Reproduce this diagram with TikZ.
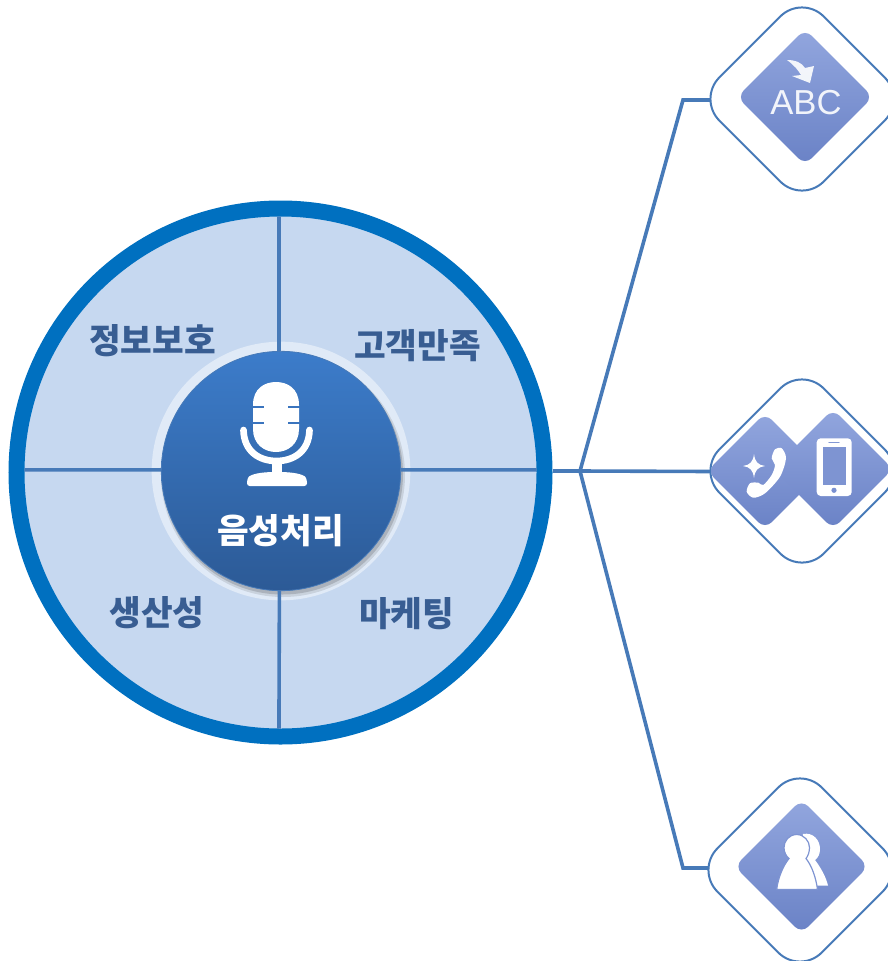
\documentclass[tikz,border=0pt]{standalone}
\usepackage{fontspec}
\newfontfamily\krfont{Noto Sans CJK KR}
\setmainfont{Liberation Sans}
\usetikzlibrary{shapes.geometric}
\tikzset{
	lbl/.style={font=\krfont\bfseries\fontsize{25.8}{26}\selectfont, text=lblblue, inner sep=0pt},
	spoke/.style={line width=2.7pt, color=lineblue},
	branch/.style={line width=2.7pt, color=lineblue},
	tile/.style={diamond, aspect=1, draw=lineblue, line width=1.5pt, fill=white, rounded corners=23pt, inner sep=0pt, minimum width=157pt, minimum height=157pt},
	badge/.style={diamond, aspect=1, rounded corners=7pt, inner sep=0pt, top color=badgetop, bottom color=badgebot, minimum width=#1, minimum height=#1},
}
\begin{document}
\begin{tikzpicture}[x=0.75pt,y=-0.75pt]
	\definecolor{ringblue}{RGB}{0,112,192}
	\definecolor{lineblue}{RGB}{71,122,184}
	\definecolor{lblblue}{RGB}{56,93,146}
	\definecolor{paleblue}{RGB}{198,216,240}
	\definecolor{badgetop}{RGB}{146,166,222}
	\definecolor{badgebot}{RGB}{106,130,198}
	\definecolor{micblue}{RGB}{58,116,190}
	\definecolor{coretop}{RGB}{60,124,202}
	\definecolor{corebot}{RGB}{44,90,150}
	\useasboundingbox (0,0) rectangle (888,961);
	\clip (0,0) rectangle (888,961);

	\node[circle, draw=ringblue, line width=12pt, fill=paleblue, inner sep=0pt, minimum size=396pt] (ring) at (280.5,472.5) {};
	\node[circle, fill=white!45!paleblue, inner sep=0pt, minimum size=194pt] (halo) at (281,471) {};
	\fill[black, opacity=0.10] (283,475) circle (122);
	\fill[black, opacity=0.15] (282.5,474) circle (120.5);
	\node[circle, draw=lineblue, line width=0.6pt, top color=coretop, bottom color=corebot, inner sep=0pt, minimum size=179.5pt] (core) at (281,471) {};

	\draw[spoke, shorten >=12pt] ([xshift=-1.5pt]core.north) -- ([xshift=-1.1pt]ring.north);
	\draw[spoke, shorten >=12pt] ([xshift=-1.2pt]core.south) -- ([xshift=-1.2pt]ring.south);
	\draw[spoke, shorten >=12pt] ([yshift=0.8pt]core.west) -- ([yshift=2pt]ring.west);
	\draw[spoke, shorten >=12pt] ([yshift=0.8pt]core.east) -- ([yshift=2pt]ring.east);

	\node[lbl] (jeongbo) at (152.5,341) {정보보호};
	\node[lbl] (gogaek) at (417.5,346) {고객만족};
	\node[lbl] (saengsan) at (157,613) {생산성};
	\node[lbl] (maketing) at (406.5,614) {마케팅};
	\node[lbl, text=white] (eumseong) at (280.5,531) {음성처리};

	\fill[white] (253,405) .. controls (253,388) and (265,382) .. (276,382) .. controls (287,382) and (299,388) .. (299,405) -- (299,429) .. controls (299,444) and (288,452) .. (276,452) .. controls (264,452) and (253,444) .. (253,429) -- cycle;
	\draw[line width=2pt, color=micblue] (252,407) -- (264,407) (288,407) -- (300,407);
	\draw[line width=2pt, color=micblue] (252,423) -- (264,423) (288,423) -- (300,423);
	\draw[line width=5pt, color=white, line cap=round] (243.5,430) .. controls (244,452) and (260,461) .. (276.5,461) .. controls (293,461) and (309,452) .. (309.5,430);
	\fill[white] (271.7,461) rectangle (282.3,475);
	\fill[white, rounded corners=2pt] (247,486) -- (247,480) .. controls (250,474) and (262,472) .. (277,472) .. controls (292,472) and (304,474) .. (307,480) -- (307,486) -- cycle;

	\node[tile] (tileabc) at (802,99) {};
	\node[tile] (tilecall) at (802,471) {};
	\node[tile] (tileuser) at (800,870) {};
	\coordinate (hub) at (580,471);
	\coordinate (tipabc) at (710,100);
	\coordinate (tipcall) at (711,471.5);
	\coordinate (tipuser) at (708,868);

	\draw[branch] (ring.east |- hub) -- (hub);
	\draw[branch] (hub) -- (tipcall);
	\draw[branch] (hub) -- (683,100) -- (tipabc);
	\draw[branch] (hub) -- (683,868) -- (tipuser);

	\node[badge=102pt] (badgeabc) at (805,97) {};
	\node[text=white, opacity=0.9, inner sep=0pt, font=\fontsize{26}{26}\selectfont] (abc) at (806,102.5) {ABC};
	\fill[white, opacity=0.9] (787,60) .. controls (796,60) and (802,63) .. (805,68) -- (814,66) -- (810,83) -- (792,76) -- (801,75) .. controls (798,70) and (794,65) .. (787,60) -- cycle;

	\node[badge=87pt] (badgecall) at (765,471) {};
	\node[badge=90pt] (badgephone) at (833,469) {};
	\fill[white] plot[smooth cycle] coordinates {(775,449.3) (781.7,448.3) (786,458.3) (780,476.7) (765,493.3) (753.3,497.7) (746.7,491.7) (750,483.3) (758.3,482.7) (763.3,485) (771.7,475) (775,465) (771.7,458.3)};
	\fill[white] (754,454) .. controls (755,462) and (758,465) .. (765,466) .. controls (758,467) and (755,470) .. (754,478) .. controls (753,470) and (750,467) .. (743,466) .. controls (750,465) and (753,462) .. (754,454) -- cycle;
	\fill[white, rounded corners=3pt] (816.7,438.3) rectangle (851.7,496);
	\fill[badgetop!50!badgebot] (822.7,447.3) rectangle (846,485);
	\draw[line width=1pt, color=badgetop!60!badgebot, line cap=round] (829,442.7) -- (839,442.7);
	\fill[badgetop!40!badgebot] (834,490.3) circle (2.6);

	\node[badge=100.5pt] (badgeuser) at (801.5,866.5) {};
	\fill[white] (803,834) .. controls (813,832) and (820,840) .. (820,849) .. controls (820,854) and (818,858) .. (815,860) .. controls (821,868) and (826,877) .. (828,885.5) -- (815,885.5) -- (800,860) -- cycle;
	\fill[white, draw=badgetop!50!badgebot, line width=0.9pt] (796.7,834.5) .. controls (789,834.5) and (784,841) .. (784,847.5) .. controls (784,852) and (786,856) .. (789,858.5) .. controls (783,866) and (778,878) .. (776.7,889.5) -- (817.5,889.5) .. controls (816,878) and (812,866) .. (806,858.5) .. controls (808,856) and (809.5,852) .. (809.5,847.5) .. controls (809.5,841) and (804,834.5) .. (796.7,834.5) -- cycle;
\end{tikzpicture}
\end{document}
